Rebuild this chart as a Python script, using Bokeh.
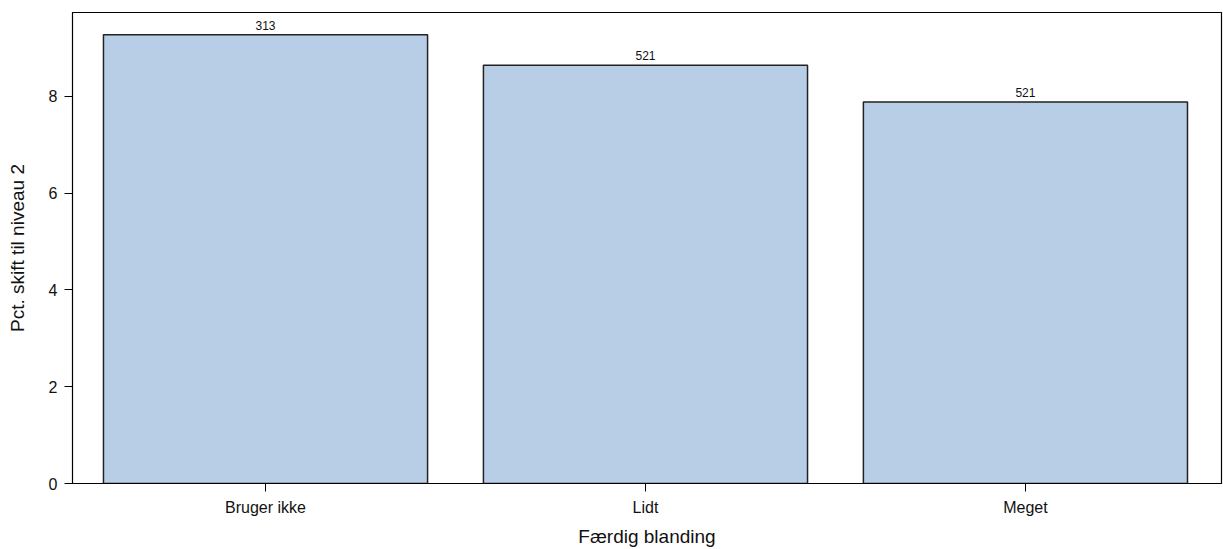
from bokeh.plotting import figure
from bokeh.models import ColumnDataSource, FixedTicker, Range1d
from bokeh.core.properties import value
from bokeh.embed import file_html
from bokeh.resources import INLINE

categories = ["Bruger ikke", "Lidt", "Meget"]
pct_values = [9.27, 8.64, 7.88]
counts = ["313", "521", "521"]

xs = [i + 1 for i in range(len(categories))]
src = ColumnDataSource(dict(x=xs, top=pct_values, label=counts))

FONT = "Liberation Sans"

p = figure(width=1223, height=549, output_backend="svg", toolbar_location=None,
           x_range=Range1d(0.492, 3.516), y_range=Range1d(0, 9.73),
           min_border_left=72, min_border_right=2, min_border_top=12, min_border_bottom=65)

p.vbar(x="x", top="top", width=0.853, bottom=0, source=src,
       fill_color="#B8CEE6", line_color="#222222", line_width=1.5)

p.text(x="x", y="top", text="label", source=src, text_align="center",
       text_baseline="bottom", y_offset=-5, text_font=value(FONT),
       text_font_size="12px", text_color="#111111")

p.grid.visible = False
p.outline_line_color = "black"
p.outline_line_width = 1.2

p.xaxis.ticker = FixedTicker(ticks=xs)
p.xaxis.major_label_overrides = {x: c for x, c in zip(xs, categories)}
p.xaxis.minor_tick_line_color = None
p.yaxis.minor_tick_line_color = None
p.yaxis.ticker = FixedTicker(ticks=[0, 2, 4, 6, 8])

for ax in (p.xaxis[0], p.yaxis[0]):
    ax.major_tick_in = 0
    ax.major_tick_out = 8
    ax.axis_line_color = "black"
    ax.major_tick_line_color = "black"
    ax.major_label_text_font = FONT
    ax.major_label_text_font_size = "16px"
    ax.major_label_text_color = "#111111"
    ax.axis_label_text_font = FONT
    ax.axis_label_text_font_size = "19px"
    ax.axis_label_text_font_style = "normal"
    ax.axis_label_text_color = "#111111"

p.xaxis.axis_label = "Færdig blanding"
p.yaxis.axis_label = "Pct. skift til niveau 2"
p.xaxis.major_label_standoff = 7
p.xaxis.axis_label_standoff = 7
p.yaxis.major_label_standoff = 7
p.yaxis.axis_label_standoff = 18

open("out.html", "w").write(file_html(p, INLINE))
